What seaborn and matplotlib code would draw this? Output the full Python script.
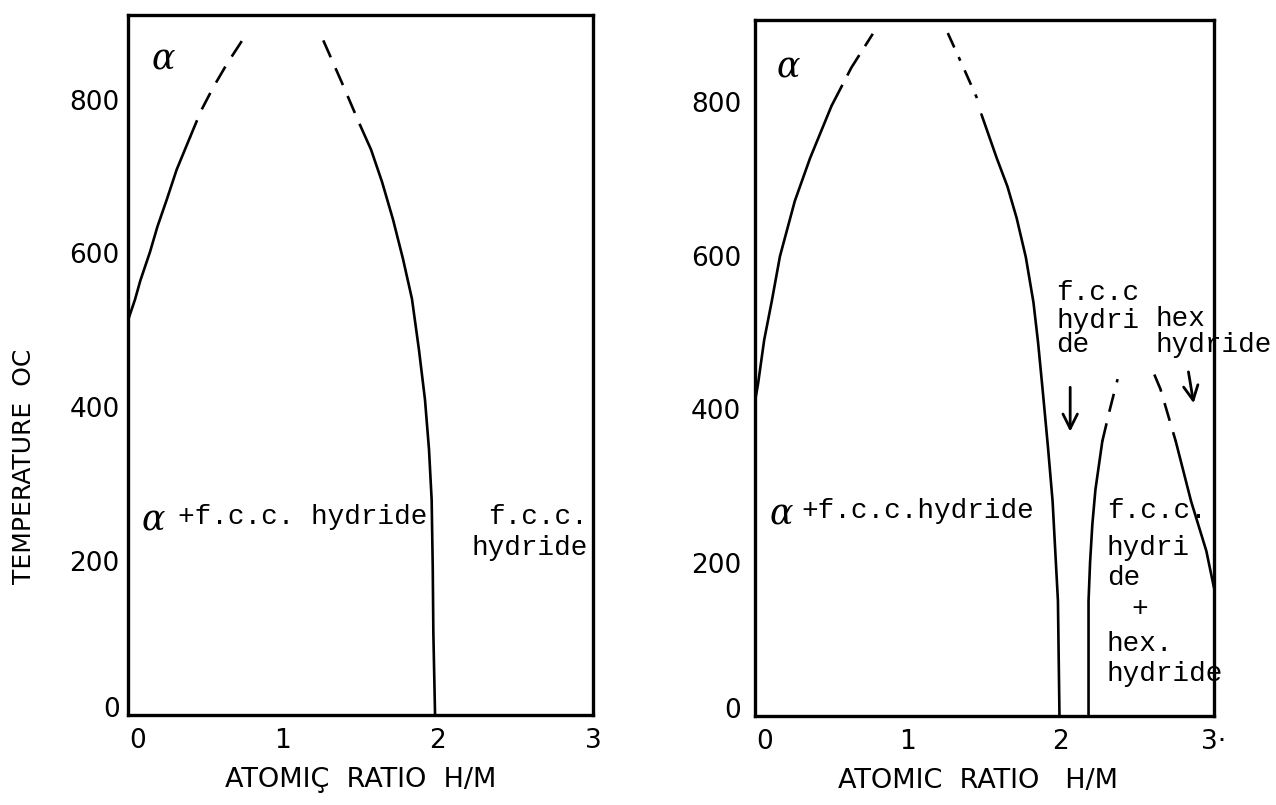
import matplotlib
matplotlib.use("Agg")
import matplotlib.pyplot as plt
import seaborn as sns
from matplotlib.transforms import ScaledTranslation

# ---- phase boundaries, left diagram (H/M ratio, temperature in C) ----
left_alpha_solid_x = [0.00, 0.02, 0.045, 0.08, 0.142, 0.19, 0.25, 0.314, 0.40]
left_alpha_solid_t = [513, 525, 540, 565, 602, 635, 670, 709, 751]
left_alpha_dash_x = [0.40, 0.47, 0.55, 0.64, 0.75]
left_alpha_dash_t = [751, 785, 816, 847, 881]
left_fcc_dash_x = [1.26, 1.38, 1.497]
left_fcc_dash_t = [877, 822, 767]
left_fcc_solid_x = [1.497, 1.568, 1.639, 1.710, 1.774, 1.832, 1.877, 1.916,
                    1.942, 1.959, 1.966, 1.970, 1.981]
left_fcc_solid_t = [767, 735, 693, 644, 593, 541, 475, 410, 345, 280, 193, 107, 0]

# ---- phase boundaries, right diagram ----
right_alpha_solid_x = [0.00, 0.02, 0.06, 0.11, 0.163, 0.26, 0.36, 0.50]
right_alpha_solid_t = [410, 433, 490, 541, 599, 671, 727, 795]
right_alpha_dash_x = [0.50, 0.63, 0.77]
right_alpha_dash_t = [795, 845, 889]
right_fcc_dashdot_x = [1.26, 1.36, 1.46]
right_fcc_dashdot_t = [890, 846, 801]
right_fcc_solid_x = [1.48, 1.58, 1.65, 1.71, 1.77, 1.82, 1.85, 1.88, 1.915,
                     1.945, 1.98, 1.99]
right_fcc_solid_t = [784, 727, 690, 649, 598, 539, 487, 425, 350, 280, 150, 0]
right_fcc2_solid_x = [2.18, 2.18, 2.19, 2.205, 2.225, 2.27]
right_fcc2_solid_t = [0, 150, 200, 250, 295, 358]
right_fcc2_dash_x = [2.27, 2.32, 2.37]
right_fcc2_dash_t = [358, 400, 439]
right_hex_dash_x = [2.61, 2.65, 2.70, 2.75]
right_hex_dash_t = [445, 426, 392, 358]
right_hex_solid_x = [2.75, 2.85, 2.95, 3.00]
right_hex_solid_t = [358, 280, 215, 167]

# ---- axes ticks and labels ----
x_ticks = [0, 1, 2, 3]
x_marks = [1, 2]
y_ticks = [0, 200, 400, 600, 800]
y_marks = [200, 400, 600, 800]
y_tick_labels = ["0", "200", "400", "600", "800"]
left_x_tick_labels = ["0", "1", "2", "3"]
right_x_tick_labels = ["0", "1", "2", "3·"]
x_title_left = "ATOMIÇ  RATIO  H/M"
x_title_right = "ATOMIC  RATIO   H/M"
y_title = "TEMPERATURE  OC"

sns.set_style("white", {"axes.edgecolor": "black", "text.color": "black",
                        "xtick.color": "black", "ytick.color": "black",
                        "axes.labelcolor": "black"})
plt.rcParams["font.family"] = ["DejaVu Sans"]

fig = plt.figure(figsize=(12.76, 8.05), dpi=100)
ax_l = fig.add_axes([128 / 1276, 90 / 805, 465 / 1276, 700 / 805])
ax_r = fig.add_axes([755 / 1276, 89 / 805, 459 / 1276, 696 / 805])

LW = 1.9
solid = "-"
dashed = (0, (7, 4.5))
long_dash = (0, (9, 4))
dash_dot = (0, (6, 4, 1.5, 4))


def curve(ax, xs, ts, ls):
    sns.lineplot(x=xs, y=ts, sort=False, estimator=None, color="black",
                 linewidth=LW, linestyle=ls, ax=ax)


def frame(ax, ytop, xlabels, title, title_x, ypad):
    ax.set_xlim(0, 3)
    ax.set_ylim(0, ytop)
    ax.set_xticks(x_ticks)
    ax.set_xticklabels(xlabels)
    ax.set_yticks(y_ticks)
    ax.set_yticklabels(y_tick_labels)
    ax.set_xticks(x_marks, minor=True)
    ax.set_yticks(y_marks, minor=True)
    ax.tick_params(which="major", length=0, labelsize=19)
    ax.tick_params(axis="x", which="major", pad=9)
    ax.tick_params(axis="y", which="major", pad=ypad)
    ax.tick_params(which="minor", direction="in", length=16, width=2.2,
                   top=True, right=True, bottom=True, left=True)
    for s in ax.spines.values():
        s.set_linewidth(2.4)
        s.set_color("black")
    ax.set_xlabel(title, fontsize=19.5)
    ax.xaxis.set_label_coords(title_x, -0.074)
    # the zero labels sit a little inside the corner
    xl0 = ax.get_xticklabels()[0]
    xl0.set_transform(xl0.get_transform() + ScaledTranslation(7 / 72, 0, fig.dpi_scale_trans))
    yl0 = ax.get_yticklabels()[0]
    yl0.set_transform(yl0.get_transform() + ScaledTranslation(0, 6 / 72, fig.dpi_scale_trans))


tw = dict(family="Liberation Mono", fontsize=20, va="center")
greek = dict(family="DejaVu Serif", style="italic", fontsize=25, ha="center", va="center")

# left diagram
curve(ax_l, left_alpha_solid_x, left_alpha_solid_t, solid)
curve(ax_l, left_alpha_dash_x, left_alpha_dash_t, dashed)
curve(ax_l, left_fcc_dash_x, left_fcc_dash_t, dashed)
curve(ax_l, left_fcc_solid_x, left_fcc_solid_t, solid)
frame(ax_l, 910, left_x_tick_labels, x_title_left, 0.50, 6)
ax_l.set_ylabel(y_title, fontsize=18)
ax_l.yaxis.set_label_coords(-0.198, 0.355)

ax_l.text(0.23, 852, "α", **greek)
ax_l.text(0.16, 253, "α", **greek)
ax_l.text(0.32, 257, "+f.c.c. hydride", ha="left", **tw)
ax_l.text(2.97, 257, "f.c.c.", ha="right", **tw)
ax_l.text(2.97, 217, "hydride", ha="right", **tw)

# right diagram
curve(ax_r, right_alpha_solid_x, right_alpha_solid_t, solid)
curve(ax_r, right_alpha_dash_x, right_alpha_dash_t, long_dash)
curve(ax_r, right_fcc_dashdot_x, right_fcc_dashdot_t, dash_dot)
curve(ax_r, right_fcc_solid_x, right_fcc_solid_t, solid)
curve(ax_r, right_fcc2_solid_x, right_fcc2_solid_t, solid)
curve(ax_r, right_fcc2_dash_x, right_fcc2_dash_t, dashed)
curve(ax_r, right_hex_dash_x, right_hex_dash_t, dashed)
curve(ax_r, right_hex_solid_x, right_hex_solid_t, solid)
frame(ax_r, 907, right_x_tick_labels, x_title_right, 0.486, 10)
ax_r.set_ylabel("")

ax_r.text(0.22, 845, "α", **greek)
ax_r.text(0.17, 263, "α", **greek)
ax_r.text(0.30, 267, "+f.c.c.hydride", ha="left", **tw)
ax_r.text(1.97, 551, "f.c.c", ha="left", **tw)
ax_r.text(1.97, 515, "hydri", ha="left", **tw)
ax_r.text(1.97, 484, "de", ha="left", **tw)
ax_r.text(2.62, 517, "hex", ha="left", **tw)
ax_r.text(2.62, 484, "hydride", ha="left", **tw)
ax_r.text(2.30, 267, "f.c.c.", ha="left", **tw)
ax_r.text(2.30, 219, "hydri", ha="left", **tw)
ax_r.text(2.30, 180, "de", ha="left", **tw)
ax_r.text(2.46, 139, "+", ha="left", **tw)
ax_r.text(2.30, 94, "hex.", ha="left", **tw)
ax_r.text(2.30, 55, "hydride", ha="left", **tw)

arrow = dict(arrowstyle="->", lw=2, color="black", mutation_scale=26)
ax_r.annotate("", xy=(2.06, 367), xytext=(2.06, 432), arrowprops=arrow)
ax_r.annotate("", xy=(2.87, 404), xytext=(2.83, 452), arrowprops=arrow)

fig.savefig("out.png", dpi=100)
